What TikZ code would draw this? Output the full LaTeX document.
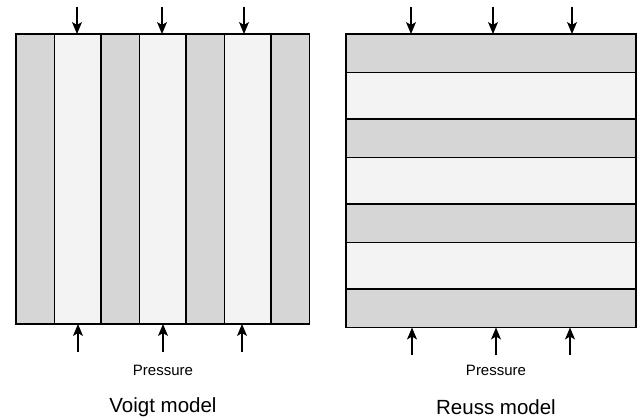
\documentclass[tikz,border=0pt]{standalone}
\usepackage{fontspec}
\setmainfont{Liberation Sans}
\usetikzlibrary{arrows.meta}
\definecolor{darkstrip}{HTML}{D6D6D6}
\definecolor{lightstrip}{HTML}{F3F3F3}
\begin{document}
\begin{tikzpicture}[x=1pt,y=-1pt,
  strip/.style={draw=black,line width=1.2pt,inner sep=0pt,outer sep=0pt,anchor=north west},
  dk/.style={strip,fill=darkstrip},
  lt/.style={strip,fill=lightstrip},
  press/.style={-{Stealth[length=12pt,width=10pt,inset=3pt]},line width=1.1pt},
  small/.style={font=\fontsize{15}{18}\selectfont,inner sep=0pt},
  big/.style={font=\fontsize{20.5}{24}\selectfont,inner sep=0pt}]
\useasboundingbox (0,0) rectangle (637,420);
% Voigt model: vertical strips
\node[dk,minimum width=38.5pt,minimum height=290pt] (v1) at (16,34) {};
\node[lt,minimum width=46.5pt,minimum height=290pt] (v2) at (54.5,34) {};
\node[dk,minimum width=38.5pt,minimum height=290pt] (v3) at (101,34) {};
\node[lt,minimum width=46.5pt,minimum height=290pt] (v4) at (139.5,34) {};
\node[dk,minimum width=38.5pt,minimum height=290pt] (v5) at (186,34) {};
\node[lt,minimum width=46.5pt,minimum height=290pt] (v6) at (224.5,34) {};
\node[dk,minimum width=38.5pt,minimum height=290pt] (v7) at (271,34) {};
% Reuss model: horizontal strips
\node[dk,minimum width=290pt,minimum height=38.5pt] (r1) at (346,34) {};
\node[lt,minimum width=290pt,minimum height=46.5pt] (r2) at (346,72.5) {};
\node[dk,minimum width=290pt,minimum height=38.5pt] (r3) at (346,119) {};
\node[lt,minimum width=290pt,minimum height=46.5pt] (r4) at (346,157.5) {};
\node[dk,minimum width=290pt,minimum height=38.5pt] (r5) at (346,204) {};
\node[lt,minimum width=290pt,minimum height=46.5pt] (r6) at (346,242.5) {};
\node[dk,minimum width=290pt,minimum height=38.5pt] (r7) at (346,289) {};
% arrow coordinates, Voigt
\coordinate (vta1) at (77,7);  \coordinate (vtb1) at (77,34);
\coordinate (vta2) at (162,7); \coordinate (vtb2) at (162,34);
\coordinate (vta3) at (244,7); \coordinate (vtb3) at (244,34);
\coordinate (vba1) at (78,352);  \coordinate (vbb1) at (78,324);
\coordinate (vba2) at (163,352); \coordinate (vbb2) at (163,324);
\coordinate (vba3) at (242,352); \coordinate (vbb3) at (242,324);
% arrow coordinates, Reuss
\coordinate (rta1) at (411,7);  \coordinate (rtb1) at (411,34);
\coordinate (rta2) at (493,7);  \coordinate (rtb2) at (493,34);
\coordinate (rta3) at (572,7);  \coordinate (rtb3) at (572,34);
\coordinate (rba1) at (412,355); \coordinate (rbb1) at (412,327.5);
\coordinate (rba2) at (496,355); \coordinate (rbb2) at (496,327.5);
\coordinate (rba3) at (570,355); \coordinate (rbb3) at (570,327.5);
\foreach \i in {1,2,3}{
  \draw[press] (vta\i) -- (vtb\i);
  \draw[press] (vba\i) -- (vbb\i);
  \draw[press] (rta\i) -- (rtb\i);
  \draw[press] (rba\i) -- (rbb\i);
}
% labels
\node[small] (vp) at (163,370) {Pressure};
\node[small] (rp) at (496,370) {Pressure};
\node[big] (vl) at (163,407) {Voigt model};
\node[big] (rl) at (496,407) {Reuss model};
\end{tikzpicture}
\end{document}
